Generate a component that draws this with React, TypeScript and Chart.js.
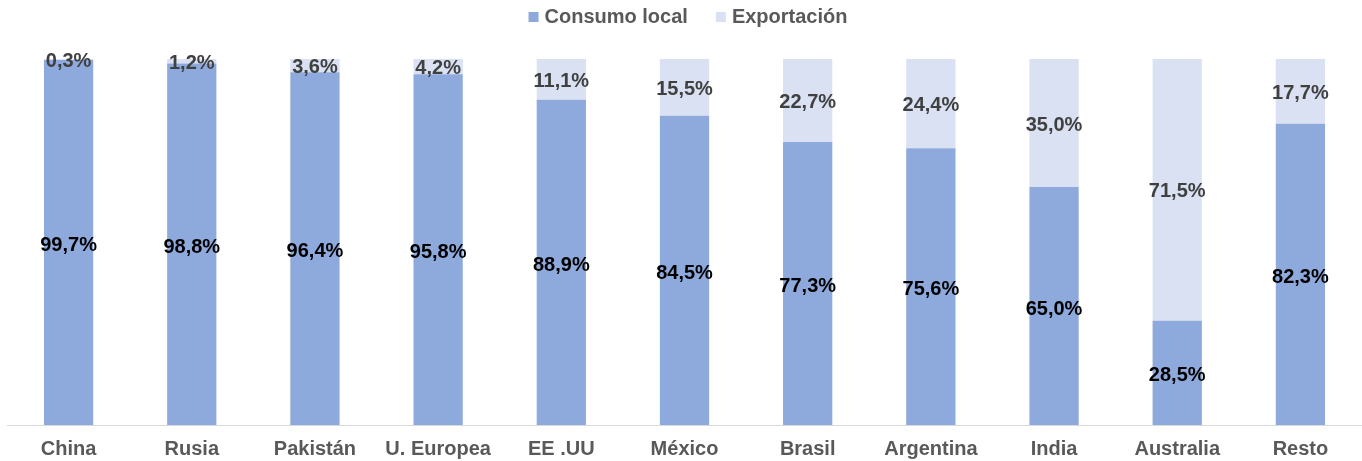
import React, { useEffect, useRef } from "react";
import { Chart, registerables } from "chart.js";

Chart.register(...registerables);

const categories = ["China", "Rusia", "Pakistán", "U. Europea", "EE .UU", "México", "Brasil", "Argentina", "India", "Australia", "Resto"];
const consumoLocal = [99.7, 98.8, 96.4, 95.8, 88.9, 84.5, 77.3, 75.6, 65.0, 28.5, 82.3];
const exportacion = [0.3, 1.2, 3.6, 4.2, 11.1, 15.5, 22.7, 24.4, 35.0, 71.5, 17.7];
const seriesNames = ["Consumo local", "Exportación"];

const FONT = '"Liberation Sans", Arial, sans-serif';
const COLORS = ["#8EA9DB", "#D9E1F2"];
const LABEL_COLORS = ["#000000", "#404040"];

const fmt = (v: number) => v.toFixed(1).replace(".", ",") + "%";

const labelsPlugin = {
  id: "segLabels",
  afterDatasetsDraw(chart: any) {
    const ctx = chart.ctx;
    ctx.save();
    ctx.font = `bold 20px ${FONT}`;
    ctx.textAlign = "center";
    ctx.textBaseline = "middle";
    chart.data.datasets.forEach((ds: any, di: number) => {
      const meta = chart.getDatasetMeta(di);
      meta.data.forEach((bar: any, i: number) => {
        const y = (bar.y + bar.base) / 2;
        ctx.fillStyle = LABEL_COLORS[di];
        ctx.fillText(fmt(ds.data[i]), bar.x, y + (di === 0 ? 3 : 2));
      });
    });
    ctx.restore();
  },
  afterDraw(chart: any) {
    const ctx = chart.ctx;
    ctx.save();
    ctx.font = `bold 20px ${FONT}`;
    ctx.textBaseline = "middle";
    ctx.textAlign = "left";
    const box = 10;
    const gapBox = 6;
    const gapItems = 28;
    const widths = seriesNames.map((n) => ctx.measureText(n).width);
    const total = widths.reduce((a, w) => a + box + gapBox + w, 0) + gapItems * (seriesNames.length - 1);
    let x = 688 - total / 2;
    const cy = 17;
    seriesNames.forEach((n, i) => {
      ctx.fillStyle = COLORS[i];
      ctx.fillRect(x, cy - box / 2, box, box);
      x += box + gapBox;
      ctx.fillStyle = "#595959";
      ctx.fillText(n, x, cy);
      x += widths[i] + gapItems;
    });
    ctx.restore();
  },
};

export default function App() {
  const ref = useRef<HTMLCanvasElement>(null);
  useEffect(() => {
    if (!ref.current) return;
    const chart = new Chart(ref.current, {
      type: "bar",
      data: {
        labels: categories,
        datasets: [
          { label: seriesNames[0], data: consumoLocal, backgroundColor: COLORS[0], borderWidth: 0 },
          { label: seriesNames[1], data: exportacion, backgroundColor: COLORS[1], borderWidth: 0 },
        ],
      },
      options: {
        animation: false,
        responsive: false,
        maintainAspectRatio: false,
        layout: { padding: { top: 59, left: 7, right: 0, bottom: 0 } },
        datasets: { bar: { categoryPercentage: 1, barPercentage: 0.4 } } as any,
        plugins: { legend: { display: false }, tooltip: { enabled: false } },
        scales: {
          x: {
            stacked: true,
            grid: { display: false, drawTicks: false },
            border: { display: true, color: "#D9D9D9", width: 1 },
            ticks: { color: "#595959", font: { family: FONT, size: 20, weight: "bold" }, padding: 12, maxRotation: 0, autoSkip: false },
            afterFit: (s: any) => { s.height = 36; },
          },
          y: { stacked: true, display: false, min: 0, max: 100 },
        },
      },
      plugins: [labelsPlugin],
    });
    return () => chart.destroy();
  }, []);
  return (
    <div style={{ position: "fixed", left: 0, top: 0, width: 1362, height: 461, background: "#fff" }}>
      <canvas ref={ref} width={1362} height={461} style={{ width: 1362, height: 461 }} />
    </div>
  );
}
